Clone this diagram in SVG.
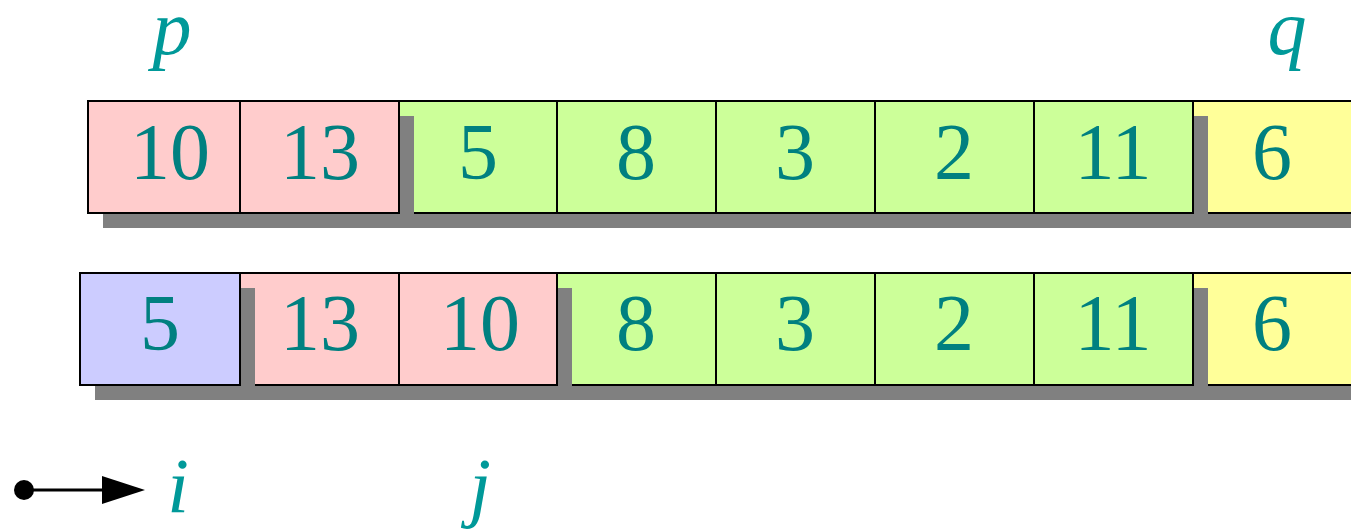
<svg xmlns="http://www.w3.org/2000/svg" width="1351" height="531" viewBox="0 0 1351 531">
<style>
  .cell { stroke: #000; stroke-width: 2; }
  .pink { fill: #FFCCCC; }
  .green { fill: #CCFF99; }
  .yellow { fill: #FFFF99; }
  .blue { fill: #CCCCFF; }
  .shadow { fill: #808080; }
  .num { fill: #008080; font-size: 80px; }
  .lbl { font-style: italic; fill: #009999; font-size: 78px; }
</style>
<defs>
  <marker id="arrowhead" viewBox="0 0 43 28" refX="4" refY="14" markerWidth="43" markerHeight="28" markerUnits="userSpaceOnUse" orient="auto">
    <path d="M0,0 L43,14 L0,28 Z" fill="#000"/>
  </marker>
</defs>
<rect width="1351" height="531" fill="#fff"/>
<g font-family="Liberation Serif, Times New Roman, Times, serif" text-anchor="middle">

<!-- top row, drawn right to left -->
<g id="top-yellow">
  <rect class="shadow" x="1208" y="116" width="159" height="112"/>
  <g id="top-cell-8"><rect class="cell yellow" x="1193" y="101" width="159" height="112"/><text class="num" x="1272" y="179">6</text></g>
</g>
<g id="top-green">
  <rect class="shadow" x="414" y="116" width="794" height="112"/>
  <g id="top-cell-3"><rect class="cell green" x="399" y="101" width="158" height="112"/><text class="num" x="478" y="179">5</text></g>
  <g id="top-cell-4"><rect class="cell green" x="557" y="101" width="159" height="112"/><text class="num" x="636" y="179">8</text></g>
  <g id="top-cell-5"><rect class="cell green" x="716" y="101" width="159" height="112"/><text class="num" x="795" y="179">3</text></g>
  <g id="top-cell-6"><rect class="cell green" x="875" y="101" width="159" height="112"/><text class="num" x="954" y="179">2</text></g>
  <g id="top-cell-7"><rect class="cell green" x="1034" y="101" width="159" height="112"/><text class="num" x="1113" y="179">11</text></g>
</g>
<g id="top-pink">
  <rect class="shadow" x="103" y="116" width="311" height="112"/>
  <g id="top-cell-1"><rect class="cell pink" x="88" y="101" width="152" height="112"/><text class="num" x="170" y="179">10</text></g>
  <g id="top-cell-2"><rect class="cell pink" x="240" y="101" width="159" height="112"/><text class="num" x="320" y="179">13</text></g>
</g>

<!-- bottom row, drawn right to left -->
<g id="bot-yellow">
  <rect class="shadow" x="1208" y="288" width="159" height="112"/>
  <g id="bot-cell-8"><rect class="cell yellow" x="1193" y="273" width="159" height="112"/><text class="num" x="1272" y="350">6</text></g>
</g>
<g id="bot-green">
  <rect class="shadow" x="572" y="288" width="636" height="112"/>
  <g id="bot-cell-4"><rect class="cell green" x="557" y="273" width="159" height="112"/><text class="num" x="636" y="350">8</text></g>
  <g id="bot-cell-5"><rect class="cell green" x="716" y="273" width="159" height="112"/><text class="num" x="795" y="350">3</text></g>
  <g id="bot-cell-6"><rect class="cell green" x="875" y="273" width="159" height="112"/><text class="num" x="954" y="350">2</text></g>
  <g id="bot-cell-7"><rect class="cell green" x="1034" y="273" width="159" height="112"/><text class="num" x="1113" y="350">11</text></g>
</g>
<g id="bot-pink">
  <rect class="shadow" x="255" y="288" width="317" height="112"/>
  <g id="bot-cell-2"><rect class="cell pink" x="240" y="273" width="159" height="112"/><text class="num" x="320" y="350">13</text></g>
  <g id="bot-cell-3"><rect class="cell pink" x="399" y="273" width="158" height="112"/><text class="num" x="480" y="350">10</text></g>
</g>
<g id="bot-blue">
  <rect class="shadow" x="95" y="288" width="160" height="112"/>
  <g id="bot-cell-1"><rect class="cell blue" x="80" y="273" width="160" height="112"/><text class="num" x="160" y="350">5</text></g>
</g>

<!-- labels -->
<g id="label-p"><text class="lbl" x="172" y="54">p</text></g>
<g id="label-q"><text class="lbl" x="1287" y="54">q</text></g>
<g id="label-i"><text class="lbl" x="178" y="512">i</text></g>
<g id="label-j"><text class="lbl" x="480" y="512">j</text></g>
</g>

<!-- connectors -->
<g id="connectors">
  <circle cx="24" cy="490" r="10" fill="#000"/>
  <line x1="24" y1="490" x2="106" y2="490" stroke="#000" stroke-width="3" marker-end="url(#arrowhead)"/>
</g>
</svg>
